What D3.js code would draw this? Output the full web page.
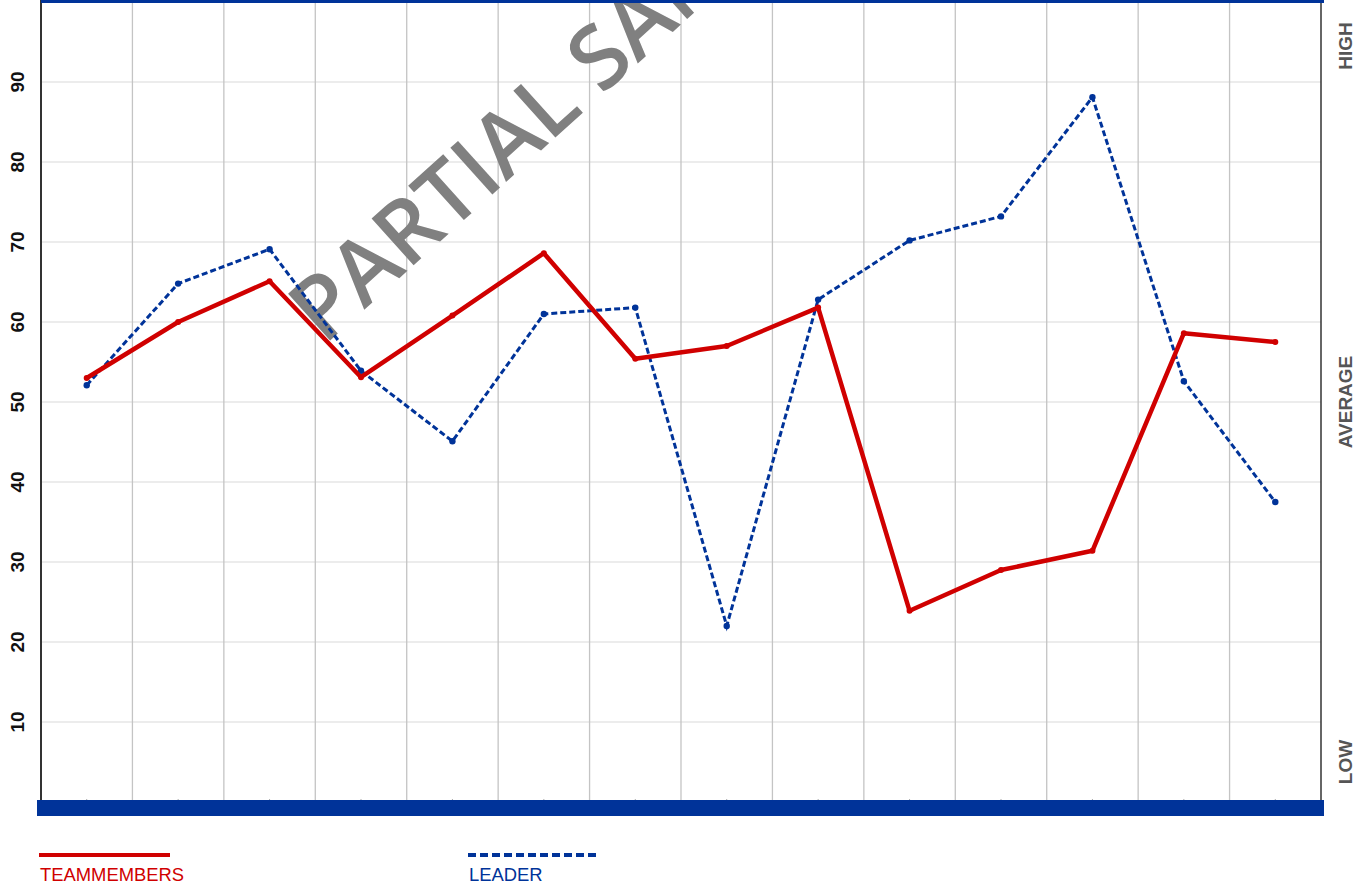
<!DOCTYPE html>
<html>
<head>
<meta charset="utf-8">
<script src="https://cdn.jsdelivr.net/npm/d3@7"></script>
<style>
  body { margin: 0; background: #fff; }
  svg { display: block; font-family: "Liberation Sans", Arial, sans-serif; }
</style>
</head>
<body>
<svg id="chart" width="1370" height="883"></svg>
<script>
// 14 items, values
var items = d3.range(1, 15);
var teammembers = [53, 60, 65.1, 53.1, 60.8, 68.6, 55.4, 57, 61.8, 23.9, 29, 31.4, 58.6, 57.5];
var leader = [52.1, 64.8, 69.1, 53.9, 45.1, 61, 61.8, 22, 62.8, 70.2, 73.2, 88.1, 52.6, 37.5];
var yTicks = [10, 20, 30, 40, 50, 60, 70, 80, 90];
var levelLabels = [["HIGH", 94.5], ["AVERAGE", 50], ["LOW", 5]];

var red = "#d00000", blue = "#003399";
var plotLeft = 41, plotRight = 1321, plotTop = 2, plotBottom = 802;

var svg = d3.select("#chart");

var x = d3.scaleBand().domain(items).range([plotLeft, plotRight]).padding(0);
var y = d3.scaleLinear().domain([0, 100]).range([plotBottom, plotTop]);
var cx = function(i) { return x(items[i]) + x.bandwidth() / 2; };

// horizontal grid
svg.append("g")
  .selectAll("line").data(yTicks).enter().append("line")
  .attr("x1", plotLeft).attr("x2", plotRight)
  .attr("y1", function(d) { return y(d); }).attr("y2", function(d) { return y(d); })
  .attr("stroke", "#e6e6e6").attr("stroke-width", 1.3);

// vertical grid at band edges
svg.append("g")
  .selectAll("line").data(items.slice(1)).enter().append("line")
  .attr("x1", function(d) { return x(d); }).attr("x2", function(d) { return x(d); })
  .attr("y1", plotTop).attr("y2", plotBottom)
  .attr("stroke", "#c4c4c4").attr("stroke-width", 1.3);

// small ticks at category centres
svg.append("g")
  .selectAll("line").data(items).enter().append("line")
  .attr("x1", function(d, i) { return cx(i); }).attr("x2", function(d, i) { return cx(i); })
  .attr("y1", plotBottom - 3).attr("y2", plotBottom)
  .attr("stroke", "#aaa").attr("stroke-width", 1);

// y labels, rotated
svg.append("g")
  .selectAll("text").data(yTicks).enter().append("text")
  .attr("transform", function(d) { return "translate(24," + y(d) + ") rotate(-90)"; })
  .attr("text-anchor", "middle")
  .attr("font-size", 19).attr("font-weight", "bold").attr("fill", "#111")
  .text(function(d) { return d; });

// right level labels
svg.append("g")
  .selectAll("text").data(levelLabels).enter().append("text")
  .attr("transform", function(d) { return "translate(1352," + y(d[1]) + ") rotate(-90)"; })
  .attr("text-anchor", "middle")
  .attr("font-size", 19).attr("font-weight", "bold").attr("fill", "#555")
  .text(function(d) { return d[0]; });

// watermark
svg.append("text")
  .attr("transform", "translate(324,346) rotate(-42)")
  .attr("font-family", "'Open Sans', sans-serif")
  .attr("font-size", 88).attr("font-weight", 600).attr("fill", "#808080")
  .text("PARTIAL SAMPLE");

// axes frame
svg.append("line").attr("x1", plotLeft).attr("x2", plotLeft).attr("y1", 0).attr("y2", plotBottom)
  .attr("stroke", "#333").attr("stroke-width", 2);
svg.append("line").attr("x1", plotRight).attr("x2", plotRight).attr("y1", 0).attr("y2", plotBottom)
  .attr("stroke", "#333").attr("stroke-width", 1.5);
svg.append("rect").attr("x", plotLeft).attr("y", 0).attr("width", plotRight - plotLeft + 3).attr("height", 3)
  .attr("fill", blue);
svg.append("rect").attr("x", 37).attr("y", 800).attr("width", 1287).attr("height", 16)
  .attr("fill", blue);

var line = d3.line().x(function(d, i) { return cx(i); }).y(function(d) { return y(d); });

// leader (dashed)
svg.append("path").datum(leader)
  .attr("d", line).attr("fill", "none")
  .attr("stroke", blue).attr("stroke-width", 3).attr("stroke-dasharray", "6,3");
svg.append("g").selectAll("circle").data(leader).enter().append("circle")
  .attr("cx", function(d, i) { return cx(i); }).attr("cy", function(d) { return y(d); })
  .attr("r", 3.2).attr("fill", blue);

// teammembers (solid)
svg.append("path").datum(teammembers)
  .attr("d", line).attr("fill", "none")
  .attr("stroke", red).attr("stroke-width", 4.5).attr("stroke-linejoin", "round");
svg.append("g").selectAll("circle").data(teammembers).enter().append("circle")
  .attr("cx", function(d, i) { return cx(i); }).attr("cy", function(d) { return y(d); })
  .attr("r", 3).attr("fill", red);

// legend
var legend = [["TEAMMEMBERS", red, null, 39], ["LEADER", blue, "8,4", 468]];
var lg = svg.append("g").selectAll("g").data(legend).enter().append("g");
lg.append("line")
  .attr("x1", function(d) { return d[3]; }).attr("x2", function(d) { return d[3] + 131; })
  .attr("y1", 855).attr("y2", 855)
  .attr("stroke", function(d) { return d[1]; }).attr("stroke-width", 4)
  .attr("stroke-dasharray", function(d) { return d[2]; });
lg.append("text")
  .attr("x", function(d) { return d[3] + 1; }).attr("y", 881)
  .attr("font-size", 18.4).attr("fill", function(d) { return d[1]; })
  .text(function(d) { return d[0]; });
</script>
</body>
</html>
